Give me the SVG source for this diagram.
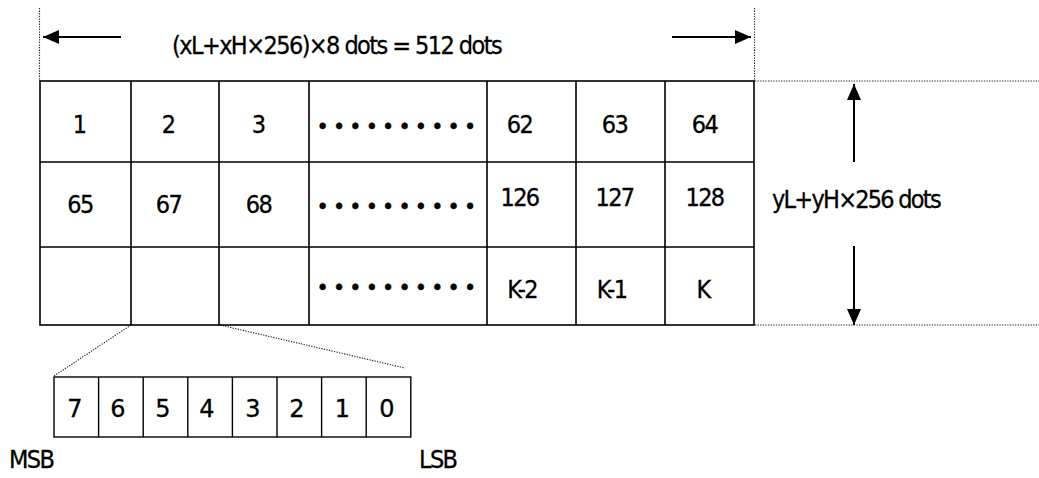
<svg xmlns="http://www.w3.org/2000/svg" width="1039" height="478" viewBox="0 0 1039 478">
<style>
text{font-family:"DejaVu Sans Condensed","DejaVu Sans",sans-serif;font-stretch:condensed;font-size:25px;fill:#000;stroke:#000;stroke-width:0.3px;letter-spacing:-1.6px}
.c{text-anchor:middle}
.dots{font-size:22px;letter-spacing:0;text-anchor:middle;stroke-width:0.6px}
.bit{letter-spacing:0;font-stretch:normal;font-family:"DejaVu Sans",sans-serif;font-size:24px}
.grid{fill:none;stroke:#000;stroke-width:1.6}
.dot{fill:none;stroke:#222;stroke-width:1.1;stroke-dasharray:1.3 1.3}
.arr{stroke:#000;stroke-width:2;fill:none}
</style>
<defs>
<marker id="ah" markerUnits="userSpaceOnUse" markerWidth="17" markerHeight="15" refX="16" refY="7" orient="auto">
<path d="M0,0 L16,7 L0,14 z" fill="#000"/>
</marker>
</defs>

<g id="connectors">
<line class="dot" x1="39.5" y1="8" x2="39.5" y2="81"/>
<line class="dot" x1="754.5" y1="8" x2="754.5" y2="81"/>
<line class="dot" x1="755" y1="81" x2="1039" y2="81"/>
<line class="dot" x1="755" y1="325" x2="1039" y2="325"/>
<line class="arr" x1="121" y1="37" x2="43" y2="37" marker-end="url(#ah)"/>
<line class="arr" x1="672" y1="37" x2="751" y2="37" marker-end="url(#ah)"/>
<line class="arr" x1="854" y1="162" x2="854" y2="84" marker-end="url(#ah)"/>
<line class="arr" x1="854" y1="246" x2="854" y2="325" marker-end="url(#ah)"/>
<line class="dot" x1="131" y1="325" x2="54" y2="376"/>
<line class="dot" x1="220" y1="325" x2="405" y2="368"/>
</g>

<g id="width-label">
<text x="172" y="54" textLength="329">(xL+xH×256)×8 dots = 512 dots</text>
</g>

<g id="height-label">
<text x="772" y="208" textLength="168">yL+yH×256 dots</text>
</g>

<g id="table">
<rect class="grid" x="40" y="81" width="714" height="244"/>
<path class="grid" d="M131,81V325M219,81V325M309,81V325M487,81V325M576,81V325M665,81V325M40,162H754M40,247H754"/>
<g id="row1">
<text class="c" x="79" y="133">1</text>
<text class="c" x="168" y="133">2</text>
<text class="c" x="258" y="133">3</text>
<text class="dots" x="322.7 339.1 355.4 371.8 388.2 404.6 420.9 437.3 453.7 470" y="134">••••••••••</text>
<text class="c" x="519.5" y="133">62</text>
<text class="c" x="614.5" y="133">63</text>
<text class="c" x="704.5" y="133">64</text>
</g>
<g id="row2">
<text class="c" x="80" y="213">65</text>
<text class="c" x="168.5" y="213">67</text>
<text class="c" x="258.5" y="213">68</text>
<text class="dots" x="322.7 339.1 355.4 371.8 388.2 404.6 420.9 437.3 453.7 470" y="214.4">••••••••••</text>
<text class="c" x="519.5" y="205.5">126</text>
<text class="c" x="614.5" y="205.5">127</text>
<text class="c" x="704.5" y="205.5">128</text>
</g>
<g id="row3">
<text class="dots" x="322.7 339.1 355.4 371.8 388.2 404.6 420.9 437.3 453.7 470" y="295">••••••••••</text>
<text class="c" x="522" y="297.5">K-2</text>
<text class="c" x="611.5" y="297.5">K-1</text>
<text class="c" x="703" y="297.5">K</text>
</g>
</g>

<g id="bits">
<rect class="grid" x="54" y="377" width="356.8" height="60" style="stroke-width:1.4"/>
<path class="grid" style="stroke-width:1.4" d="M98.6,377V437M143.2,377V437M187.8,377V437M232.4,377V437M277,377V437M321.6,377V437M366.2,377V437"/>
<text class="c bit" x="75" y="417">7</text>
<text class="c bit" x="118" y="417">6</text>
<text class="c bit" x="163" y="417">5</text>
<text class="c bit" x="207" y="417">4</text>
<text class="c bit" x="253" y="417">3</text>
<text class="c bit" x="297" y="417">2</text>
<text class="c bit" x="342.5" y="417">1</text>
<text class="c bit" x="387" y="417">0</text>
</g>

<g id="msb"><text x="9" y="468">MSB</text></g>
<g id="lsb"><text x="419" y="468">LSB</text></g>
</svg>
